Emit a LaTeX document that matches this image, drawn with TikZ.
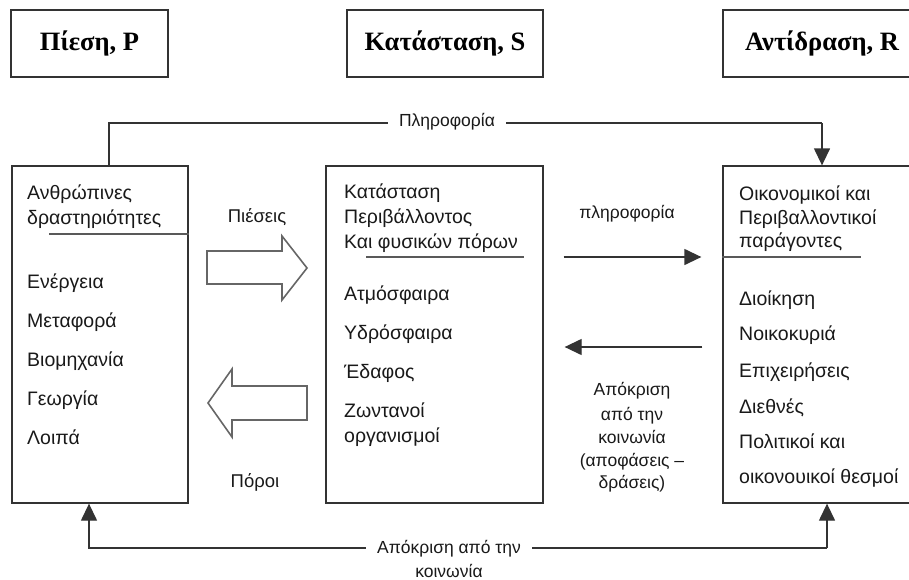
\documentclass[tikz,border=0pt]{standalone}
\usepackage{fontspec}
\setmainfont{Liberation Sans}
\newfontfamily\titlefont{Liberation Serif}
\usetikzlibrary{arrows.meta}
\begin{document}
\begin{tikzpicture}[x=1pt,y=-1pt,
  tbox/.style={draw=black!80,line width=1.3pt,minimum height=67pt,inner sep=0pt,
    font=\titlefont\bfseries\fontsize{26.5}{30}\selectfont},
  bigbox/.style={draw=black!80,line width=1.3pt,minimum height=337pt,inner sep=0pt},
  txt/.style={anchor=base west,inner sep=0pt,font=\fontsize{19.5}{23}\selectfont,text=black!90},
  lbl/.style={anchor=base,inner sep=0pt,font=\fontsize{17.5}{21}\selectfont,text=black!90},
  conn/.style={draw=black!80,line width=1.3pt},
  tip/.style={-{Triangle[length=17pt,width=16pt]}},
  uline/.style={draw=black!65,line width=1.4pt},
  blockarrow/.style={draw=black!60,line width=1.6pt,line join=miter}
]
\useasboundingbox (0,0) rectangle (909,579);
\clip (0,0) rectangle (909,579);

% top title boxes
\node[tbox,minimum width=157pt] (tP) at (89.5,43.5) {Πίεση, P};
\node[tbox,minimum width=196pt] (tS) at (445,43.5) {Κατάσταση, S};
\node[tbox,minimum width=198pt] (tR) at (822,43.5) {Αντίδραση, R};

% main boxes
\node[bigbox,minimum width=176pt] (bP) at (100,334.5) {};
\node[bigbox,minimum width=217pt] (bS) at (434.5,334.5) {};
\node[bigbox,minimum width=198pt] (bR) at (822,334.5) {};

% left box text
\node[txt] (p1) at (27,199) {Ανθρώπινες};
\node[txt] (p2) at (27,224) {δραστηριότητες};
\draw[uline] (49,234) -- (bP.east |- 0,234);
\node[txt] (p3) at (27,288) {Ενέργεια};
\node[txt] (p4) at (27,327) {Μεταφορά};
\node[txt] (p5) at (27,366) {Βιομηχανία};
\node[txt] (p6) at (27,405) {Γεωργία};
\node[txt] (p7) at (27,444) {Λοιπά};

% middle box text
\node[txt] (s1) at (344,198) {Κατάσταση};
\node[txt] (s2) at (344,223) {Περιβάλλοντος};
\node[txt] (s3) at (344,248) {Και φυσικών πόρων};
\draw[uline] (366,257) -- (524,257);
\node[txt] (s4) at (344,300) {Ατμόσφαιρα};
\node[txt] (s5) at (344,339) {Υδρόσφαιρα};
\node[txt] (s6) at (344,378) {Έδαφος};
\node[txt] (s7) at (344,417) {Ζωντανοί};
\node[txt] (s8) at (344,442) {οργανισμοί};

% right box text
\node[txt] (r1) at (739,200) {Οικονομικοί και};
\node[txt] (r2) at (739,224) {Περιβαλλοντικοί};
\node[txt] (r3) at (739,247) {παράγοντες};
\draw[uline] (bR.west |- 0,257) -- (861,257);
\node[txt] (r4) at (739,305) {Διοίκηση};
\node[txt] (r5) at (739,340) {Νοικοκυριά};
\node[txt] (r6) at (739,377) {Επιχειρήσεις};
\node[txt] (r7) at (739,413) {Διεθνές};
\node[txt] (r8) at (739,448) {Πολιτικοί και};
\node[txt] (r9) at (739,483) {οικονουικοί θεσμοί};

% information loop on top
\coordinate (infoL) at (109,123);
\coordinate (infoR) at (822,123);
\draw[conn] (bP.north -| infoL) -- (infoL) -- (infoR);
\draw[conn,tip] (infoR) -- (bR.north);
\node[lbl,anchor=center,fill=white,inner xsep=11pt,inner ysep=3pt] (info) at (447,122) {Πληροφορία};

% response loop at bottom
\coordinate (respL) at (89,548);
\coordinate (respR) at (827,548);
\draw[conn,tip] (respR) -- (respL) -- (bP.south -| respL);
\draw[conn,tip] (respR) -- (bR.south -| respR);
\node[lbl,anchor=center,fill=white,inner xsep=11pt,inner ysep=3pt] (resp1) at (449,549) {Απόκριση από την};
\node[lbl] (resp2) at (449,577) {κοινωνία};

% block arrows
\draw[blockarrow] (207,251) -- (282,251) -- (282,236) -- (307,268) -- (282,300) -- (282,284) -- (207,284) -- cycle;
\draw[blockarrow] (307,386) -- (232,386) -- (232,369) -- (208,403) -- (232,437) -- (232,420) -- (307,420) -- cycle;
\node[lbl,font=\fontsize{18.5}{22}\selectfont] (pies) at (257,222) {Πιέσεις};
\node[lbl,font=\fontsize{18.5}{22}\selectfont] (poroi) at (255,487) {Πόροι};

% information / response arrows between S and R
\draw[conn,tip,shorten <=20pt,shorten >=21pt] (bS.east |- 0,257) -- (bR.west |- 0,257);
\draw[conn,tip,shorten <=20pt,shorten >=21pt] (bR.west |- 0,347) -- (bS.east |- 0,347);
\node[lbl] (plir) at (627,218) {πληροφορία};
\node[lbl] (a1) at (632,395) {Απόκριση};
\node[lbl] (a2) at (632,420) {από την};
\node[lbl] (a3) at (632,443) {κοινωνία};
\node[lbl] (a4) at (632,466) {(αποφάσεις –};
\node[lbl] (a5) at (632,488) {δράσεις)};
\end{tikzpicture}
\end{document}
